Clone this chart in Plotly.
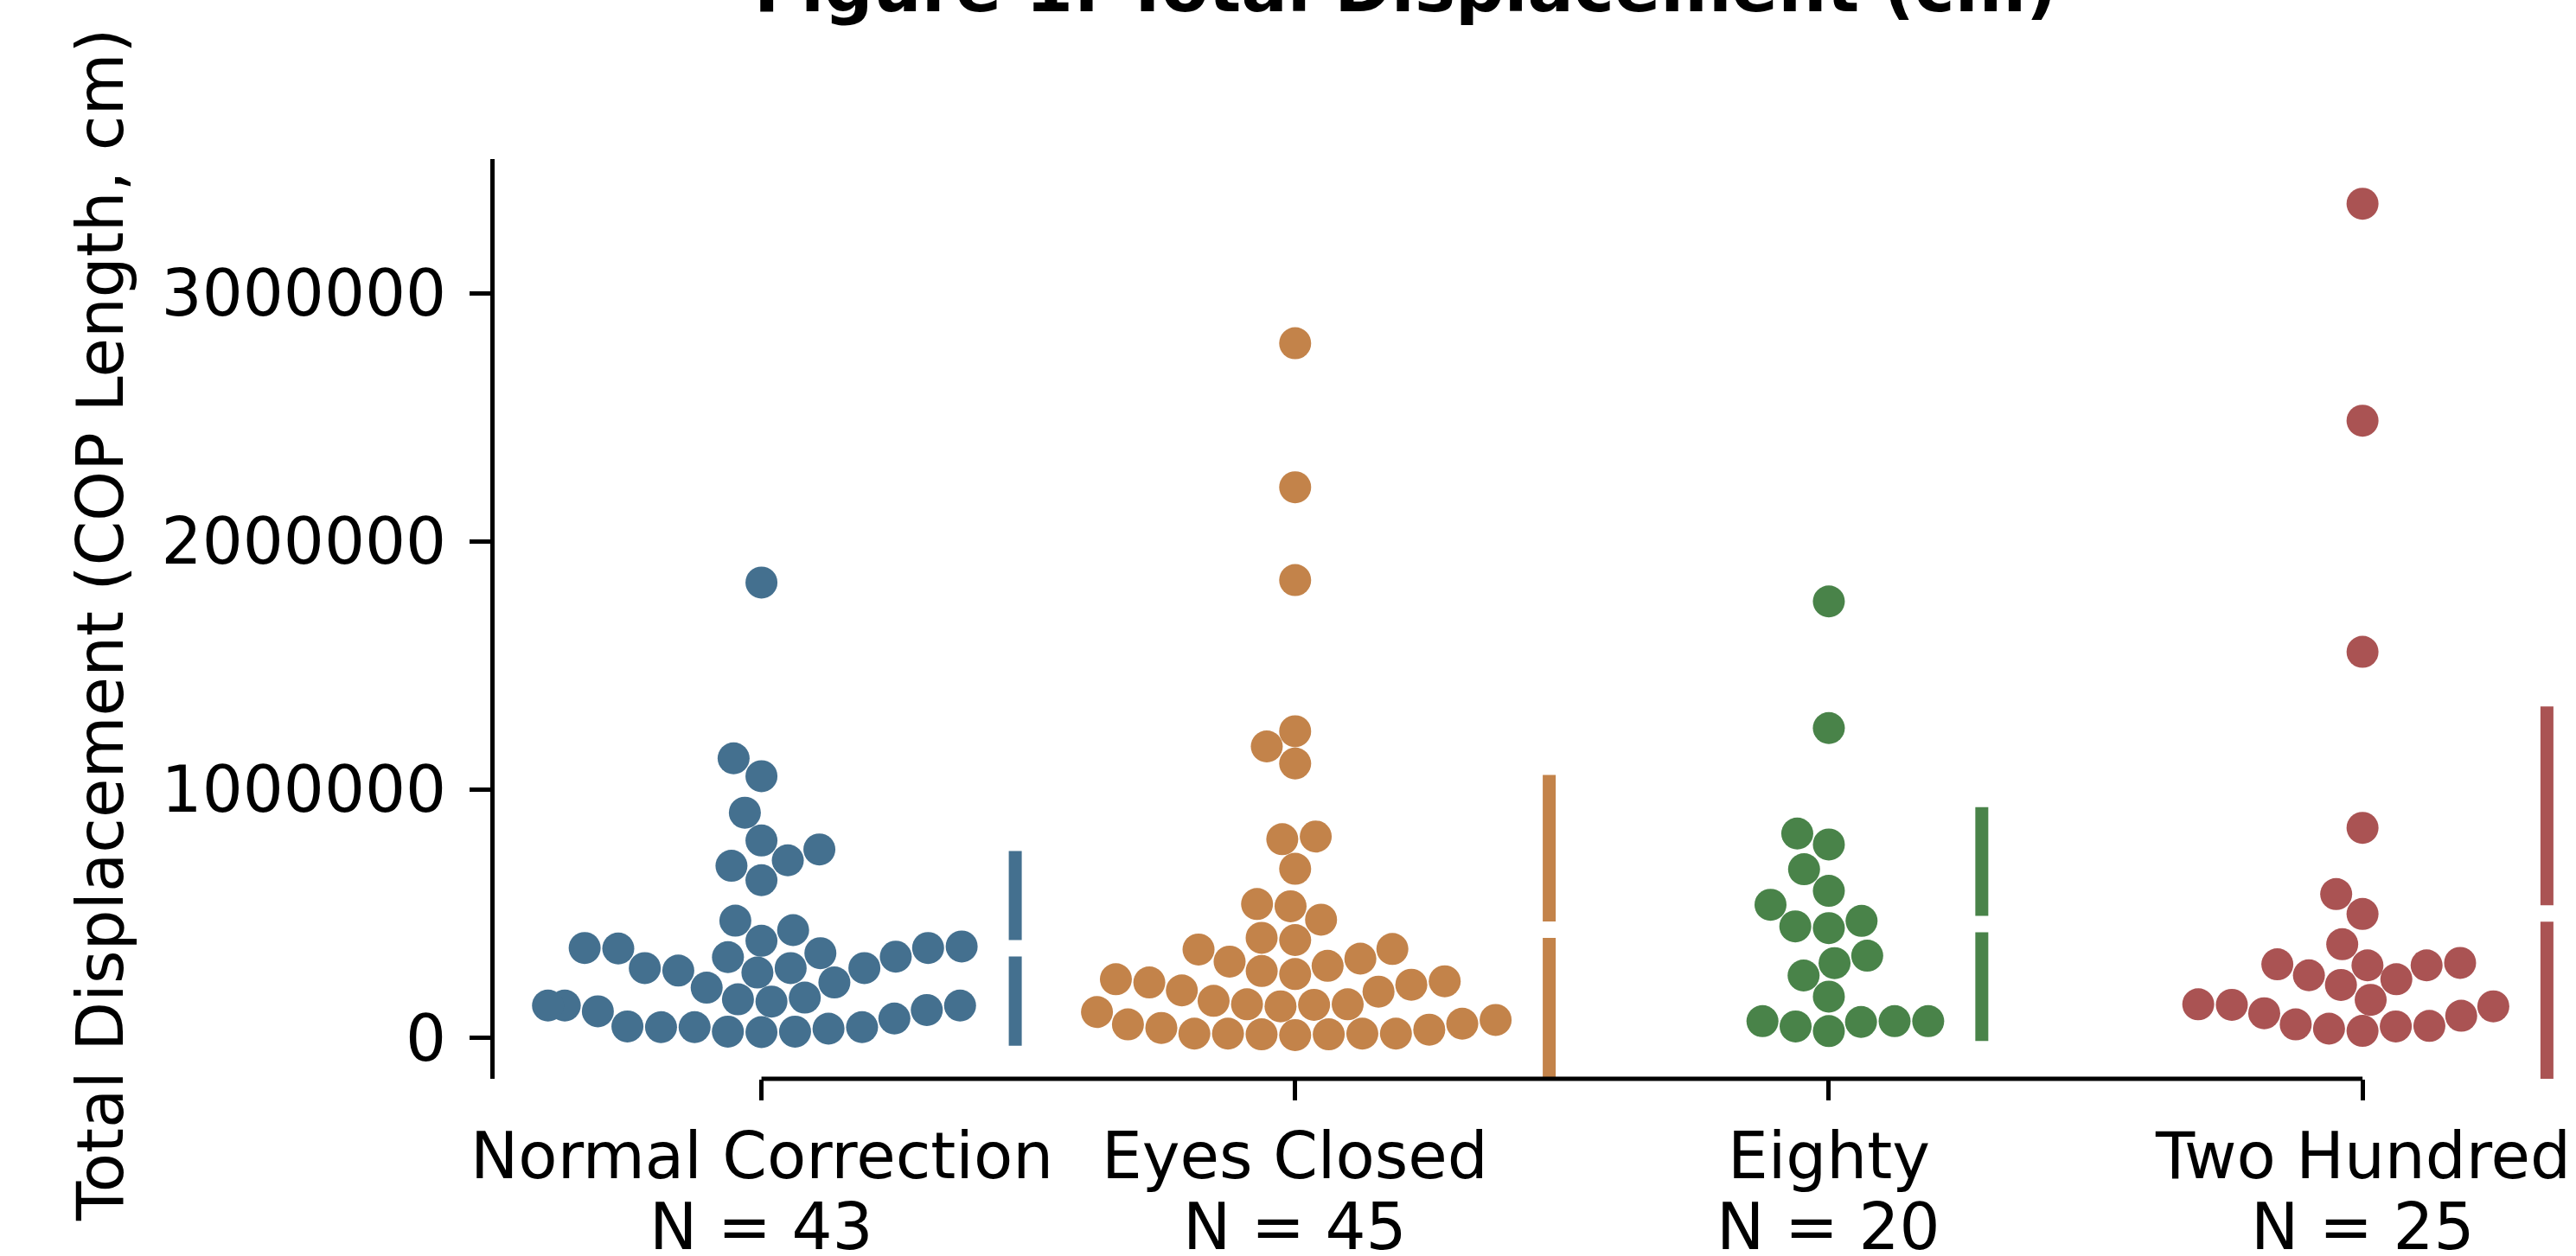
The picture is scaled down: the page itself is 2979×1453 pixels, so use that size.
import numpy as np
import plotly.graph_objects as go

# ---------------- data (cm) ----------------
categories = ["Normal Correction", "Eyes Closed", "Eighty", "Two Hundred"]

normal_correction = [1834000, 1126000, 1054000, 907000, 795000, 759000, 715000, 693000, 635000,
                     472000, 434000, 391000, 368000, 362000, 360000, 362000, 341000, 327000, 325000,
                     281000, 281000, 281000, 271000, 263000, 223000, 202000, 162000, 155000, 146000,
                     130000, 112000, 107000, 130000, 130000, 78000,
                     43000, 37000, 46000, 43000, 43000, 25000, 23000, 25000]

eyes_closed = [2798000, 2218000, 1844000, 1235000, 1174000, 1105000, 811000, 800000, 681000,
               539000, 530000, 476000, 403000, 394000, 358000, 356000, 319000, 307000, 290000,
               269000, 257000, 236000, 228000, 223000, 214000, 191000, 186000, 149000, 135000,
               135000, 133000, 127000, 104000, 72000, 57000, 54000, 40000, 33000,
               17000, 17000, 17000, 17000, 14000, 14000, 11000]

eighty = [1758000, 1248000, 823000, 779000, 679000, 592000, 536000, 471000, 449000, 442000,
          331000, 301000, 251000, 166000, 67000, 67000, 67000, 64000, 46000, 27000]

two_hundred = [3360000, 2486000, 1555000, 846000, 579000, 499000, 377000, 302000, 296000, 292000,
               292000, 252000, 236000, 213000, 153000, 135000, 133000, 127000, 99000, 89000,
               54000, 48000, 46000, 37000, 28000]

groups = [normal_correction, eyes_closed, eighty, two_hundred]
y_ticks = [0, 1000000, 2000000, 3000000]
colors = ["#44708F", "#C3834A", "#498349", "#AA5353"]

# ---------------- layout geometry ----------------
W, H = 2979, 1453
ML, MR, MT, MB = 572, 0, 184, 205
XR = [-0.5, 3.4]
YR = [-165000, 3540000]
plot_w = W - ML - MR
plot_h = H - MT - MB
px_x = plot_w / (XR[1] - XR[0])
px_y = plot_h / (YR[1] - YR[0])
DOT = 37          # marker diameter (px)
GUTTER = 0.4      # half swarm width (category units)
FONT = "DejaVu Sans"
FS = 74


def beeswarm(values):
    ys = np.sort(np.asarray(values, float)) * px_y
    d = DOT
    placed = []
    for y in ys:
        neighbors = []
        for xj, yj in reversed(placed):
            if y - yj < d:
                neighbors.append((xj, yj))
            else:
                break
        cands = [0.0]
        left = True
        for xj, yj in neighbors:
            dy = y - yj
            dx = np.sqrt(max(d * d - dy * dy, 0.0)) * 1.05
            cands.extend([xj - dx, xj + dx] if left else [xj + dx, xj - dx])
            left = not left
        cands = sorted(cands, key=abs)
        chosen = cands[0]
        for c in cands:
            if all((xj - c) ** 2 + (yj - y) ** 2 >= d * d - 1e-6 for xj, yj in neighbors):
                chosen = c
                break
        placed.append((chosen, y))
    xs = np.array([p[0] for p in placed]) / px_x
    xs = np.clip(xs, -GUTTER, GUTTER)
    return xs, ys / px_y


fig = go.Figure()
shapes = []
LINE_W = 15 / px_x        # gapped line width in x units
EXT = 7.5 / px_y          # projecting cap
GAP = 9.5 / px_y          # half gap around the mean
OFFSET = 62 / px_x        # distance of the line from the swarm

for i, (vals, col) in enumerate(zip(groups, colors)):
    xo, ys = beeswarm(vals)
    fig.add_trace(go.Scatter(
        x=i + xo, y=ys, mode="markers",
        marker=dict(size=DOT, color=col, line=dict(width=0)),
        showlegend=False, hoverinfo="y"))
    arr = np.asarray(vals, float)
    m, s = arr.mean(), arr.std(ddof=1)
    lx = i + xo.max() + OFFSET
    for y0, y1 in [(m - s - EXT, m - GAP), (m + GAP, m + s + EXT)]:
        shapes.append(dict(type="rect", xref="x", yref="y",
                           x0=lx - LINE_W / 2, x1=lx + LINE_W / 2, y0=y0, y1=y1,
                           fillcolor=col, line=dict(width=0), layer="above"))

# trimmed x axis line
shapes.append(dict(type="line", xref="x", yref="paper", x0=0, x1=len(categories) - 1,
                   y0=0, y1=0, line=dict(color="black", width=5)))

annotations = []
for i, (cat, vals) in enumerate(zip(categories, groups)):
    annotations.append(dict(x=i, xref="x", y=0, yref="paper", text=cat, showarrow=False,
                            xanchor="center", yanchor="middle", yshift=-89,
                            font=dict(family=FONT, size=FS, color="black")))
    annotations.append(dict(x=i, xref="x", y=0, yref="paper", text=f"N = {len(vals)}",
                            showarrow=False, xanchor="center", yanchor="middle", yshift=-171,
                            font=dict(family=FONT, size=FS, color="black")))

annotations.append(dict(x=(116 - ML) / plot_w, xref="paper", y=(H - MB - 723) / plot_h, yref="paper",
                        text="Total Displacement (COP Length, cm)", textangle=-90, showarrow=False,
                        xanchor="center", yanchor="middle",
                        font=dict(family=FONT, size=FS, color="black")))
annotations.append(dict(x=(1625 - ML) / plot_w, xref="paper", y=(H - MB - 34) / plot_h, yref="paper",
                        text="<b>Figure 1: Total Displacement (cm)</b>", showarrow=False,
                        xanchor="center", yanchor="bottom",
                        font=dict(family=FONT, size=79, color="black")))

fig.update_layout(
    width=W, height=H, autosize=False,
    margin=dict(l=ML, r=MR, t=MT, b=MB, pad=0),
    paper_bgcolor="white", plot_bgcolor="white",
    shapes=shapes, annotations=annotations,
    xaxis=dict(range=XR, showgrid=False, zeroline=False, showline=False,
               tickmode="array", tickvals=list(range(len(categories))),
               ticks="outside", ticklen=24, tickwidth=5, tickcolor="black",
               showticklabels=False, fixedrange=True),
    yaxis=dict(range=YR, showgrid=False, zeroline=False, showline=True,
               linecolor="black", linewidth=5,
               tickmode="array", tickvals=y_ticks, ticktext=[str(v) for v in y_ticks],
               ticks="outside", ticklen=24, tickwidth=5, tickcolor="black",
               ticklabelstandoff=12,
               tickfont=dict(family=FONT, size=FS, color="black"), fixedrange=True),
)

fig.write_html("out.html", config={"displayModeBar": False},
               post_script="document.body.style.margin='0';document.body.style.overflow='hidden';")
